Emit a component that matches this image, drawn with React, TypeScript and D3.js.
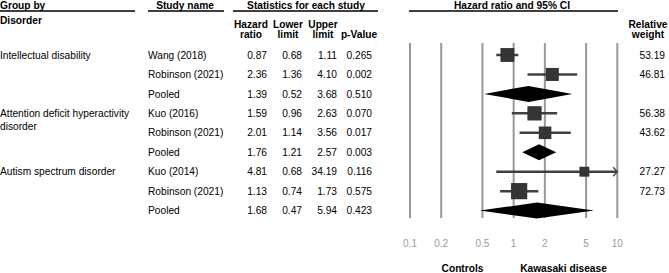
import React from "react";
import * as d3 from "d3";

const groups = ["Intellectual disability", "Attention deficit hyperactivity|disorder", "Autism spectrum disorder"];
const groupRows = [0, 3, 6];
const studies = ["Wang (2018)", "Robinson (2021)", "Pooled", "Kuo (2016)", "Robinson (2021)", "Pooled", "Kuo (2014)", "Robinson (2021)", "Pooled"];
const isPooled = [false, false, true, false, false, true, false, false, true];
const hazard = [0.87, 2.36, 1.39, 1.59, 2.01, 1.76, 4.81, 1.13, 1.68];
const lower = [0.68, 1.36, 0.52, 0.96, 1.14, 1.21, 0.68, 0.74, 0.47];
const upper = [1.11, 4.10, 3.68, 2.63, 3.56, 2.57, 34.19, 1.73, 5.94];
const pValues = ["0.265", "0.002", "0.510", "0.070", "0.017", "0.003", "0.116", "0.575", "0.423"];
const weights: (number | null)[] = [53.19, 46.81, null, 56.38, 43.62, null, 27.27, 72.73, null];
const tickValues = [0.1, 0.2, 0.5, 1, 2, 5, 10];
const tickLabels = ["0.1", "0.2", "0.5", "1", "2", "5", "10"];

const FONT = "'Liberation Sans', Arial, Helvetica, sans-serif";
const FS = 10.2;

export default function App() {
  const x = d3.scaleLog().domain([0.1, 10]).range([410, 617.3]);
  const y = d3.scaleLinear().domain([0, 8]).range([55, 210.6]);
  const size = d3.scaleSqrt().domain([0, 100]).range([0, 19]);
  const [xmin, xmax] = x.domain();
  const fmt = d3.format(".2f");

  const colRight = [267, 302, 337, 372];
  const headCenters = [251, 288, 323, 359];
  const head1 = ["Hazard", "Lower", "Upper", ""];
  const head2 = ["ratio", "limit", "limit", "p-Value"];

  const bold = { fontWeight: 700 as const };

  return (
    <div style={{ position: "fixed", left: 0, top: 0 }}>
      <svg width={669} height={273} style={{ display: "block", background: "#fff" }} fontFamily={FONT} fontSize={FS}>
        {/* headers */}
        <text x={0} y={9} {...bold}>Group by</text>
        <line x1={0} x2={135} y1={11} y2={11} stroke="#000" strokeWidth={1.3} />
        <text x={0} y={23.5} {...bold}>Disorder</text>
        <text x={185} y={9} textAnchor="middle" {...bold}>Study name</text>
        <line x1={148} x2={224} y1={11} y2={11} stroke="#000" strokeWidth={1.3} />
        <text x={306} y={9} textAnchor="middle" {...bold}>Statistics for each study</text>
        <line x1={233} x2={378} y1={11} y2={11} stroke="#000" strokeWidth={1.3} />
        <text x={512} y={9} textAnchor="middle" {...bold}>Hazard ratio and 95% CI</text>
        <line x1={409} x2={618} y1={11} y2={11} stroke="#000" strokeWidth={1.3} />
        {head1.map((h, i) => (
          <text key={"h1" + i} x={headCenters[i]} y={28} textAnchor="middle" {...bold}>{h}</text>
        ))}
        {head2.map((h, i) => (
          <text key={"h2" + i} x={headCenters[i]} y={38} textAnchor="middle" {...bold}>{h}</text>
        ))}
        <text x={648} y={28} textAnchor="middle" {...bold}>Relative</text>
        <text x={648} y={38} textAnchor="middle" {...bold}>weight</text>

        {/* group labels */}
        {groups.map((g, gi) =>
          g.split("|").map((part, k) => (
            <text key={"g" + gi + k} x={0} y={y(groupRows[gi]) + 3.6 + k * 12.7}>{part}</text>
          ))
        )}

        {/* rows */}
        {studies.map((s, i) => {
          const cy = y(i) + 3.6;
          const vals = [fmt(hazard[i]), fmt(lower[i]), fmt(upper[i]), pValues[i]];
          return (
            <g key={"r" + i}>
              <text x={148} y={cy}>{s}</text>
              {vals.map((v, j) => (
                <text key={j} x={colRight[j]} y={cy} textAnchor="end">{v}</text>
              ))}
              {weights[i] != null && (
                <text x={665} y={cy} textAnchor="end">{weights[i]!.toFixed(2)}</text>
              )}
            </g>
          );
        })}

        {/* grid */}
        {tickValues.map((t, i) => (
          <line key={"gl" + i} x1={x(t)} x2={x(t)} y1={43} y2={218} stroke="#999" strokeWidth={2} />
        ))}
        {tickValues.map((t, i) => (
          <text key={"tl" + i} x={x(t)} y={247} textAnchor="middle" fill="#9a9a9a" fontSize={10}>{tickLabels[i]}</text>
        ))}

        {/* marks */}
        {studies.map((s, i) => {
          const cy = y(i);
          if (isPooled[i]) {
            const h = 8;
            const p = `M${x(lower[i])},${cy} L${x(hazard[i])},${cy - h} L${x(upper[i])},${cy} L${x(hazard[i])},${cy + h} Z`;
            return <path key={"m" + i} d={p} fill="#000" />;
          }
          const lo = Math.max(lower[i], xmin);
          const hi = Math.min(upper[i], xmax);
          const clipped = upper[i] > xmax;
          const sz = size(weights[i] ?? 0);
          return (
            <g key={"m" + i}>
              <line x1={x(lo)} x2={x(hi)} y1={cy} y2={cy} stroke="#404040" strokeWidth={2.5} />
              {clipped && (
                <path d={`M${x(hi) - 4},${cy - 4.5} L${x(hi)},${cy} L${x(hi) - 4},${cy + 4.5}`} fill="none" stroke="#404040" strokeWidth={1.3} />
              )}
              <rect x={x(hazard[i]) - sz / 2} y={cy - sz / 2} width={sz} height={sz} fill="#353535" />
            </g>
          );
        })}

        <text x={462.5} y={272} textAnchor="middle" {...bold}>Controls</text>
        <text x={563.5} y={272} textAnchor="middle" {...bold}>Kawasaki disease</text>
      </svg>
    </div>
  );
}
